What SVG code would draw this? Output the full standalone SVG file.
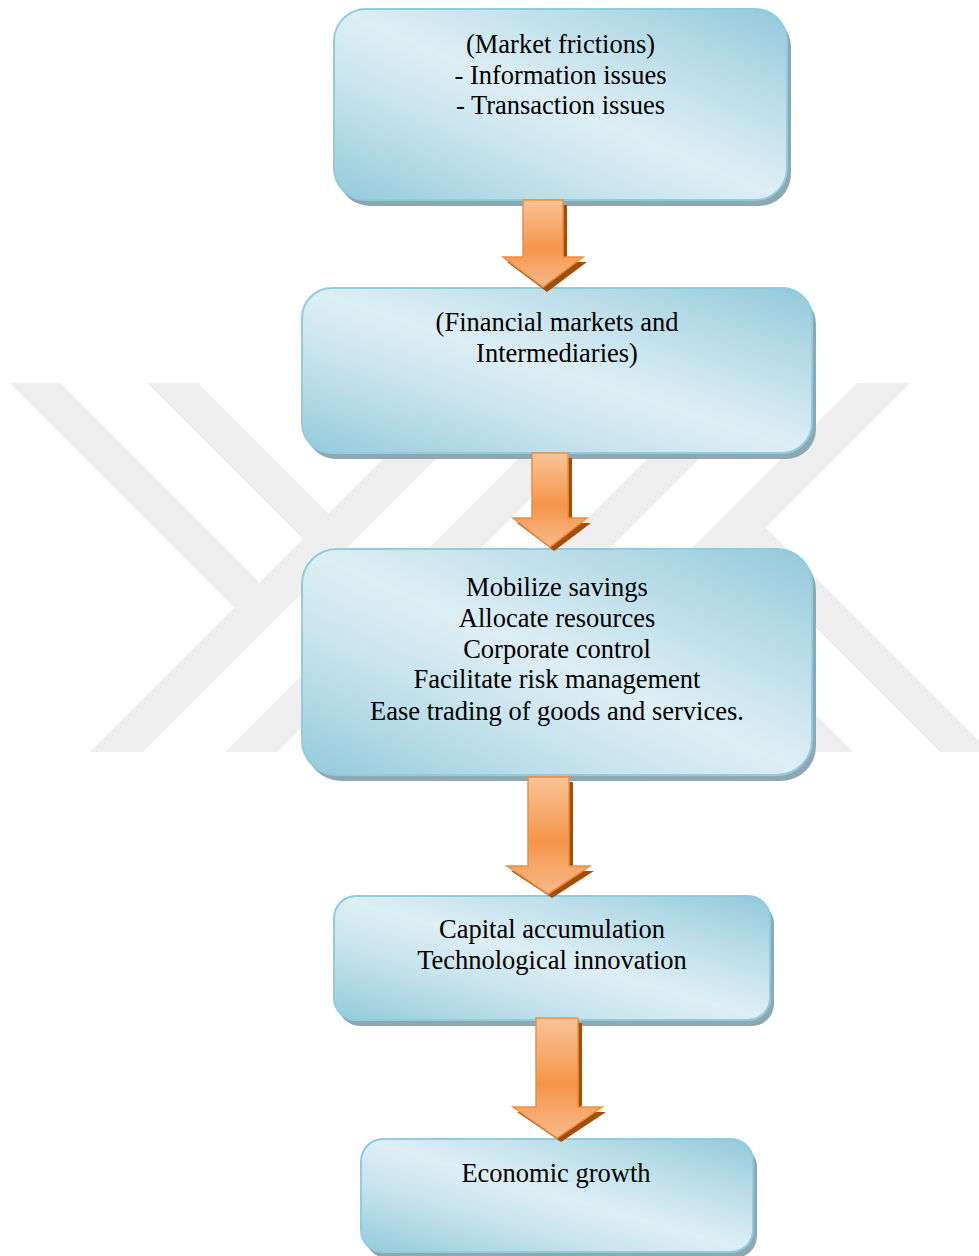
<svg xmlns="http://www.w3.org/2000/svg" width="979" height="1256" viewBox="0 0 979 1256">
  <defs>
    <linearGradient id="boxFill" x1="0" y1="1" x2="1" y2="0">
      <stop offset="0" stop-color="#93cadb"/>
      <stop offset="0.3" stop-color="#c6e3ec"/>
      <stop offset="0.5" stop-color="#ddeef4"/>
      <stop offset="0.7" stop-color="#c2e1eb"/>
      <stop offset="1" stop-color="#92c9da"/>
    </linearGradient>
    <linearGradient id="arrowFill" x1="0" y1="0" x2="0" y2="1">
      <stop offset="0" stop-color="#f9c398"/>
      <stop offset="0.55" stop-color="#f5954a"/>
      <stop offset="1" stop-color="#f9b98c"/>
    </linearGradient>
    <style>
      .wm { fill: #eeeeee; }
      .shadow { fill: #8ea7b0; }
      .face { fill: url(#boxFill); stroke: #8ccde0; stroke-width: 2; }
      .label { font-family: "Liberation Serif", "Times New Roman", serif; font-size: 26.5px; fill: #000000; text-anchor: middle; }
      .ashadow { fill: #a04f0c; }
      .arrow { fill: url(#arrowFill); stroke: #f08e3c; stroke-width: 1.5; stroke-linejoin: miter; }
    </style>
  </defs>

  <rect width="979" height="1256" fill="#ffffff"/>

  <g id="watermark">
    <polygon class="wm" points="90,752 143,752 512,383 459,383"/>
    <polygon class="wm" points="225,752 277,752 646,383 594,383"/>
    <polygon class="wm" points="10,383 60,383 259.5,582.5 234.5,607.5"/>
    <polygon class="wm" points="147,383 198,383 328.5,513.5 303,539"/>
    <polygon class="wm" points="910,383 857,383 488,752 541,752"/>
    <polygon class="wm" points="775,383 723,383 354,752 406,752"/>
    <polygon class="wm" points="990,752 940,752 740.5,552.5 765.5,527.5"/>
    <polygon class="wm" points="853,752 802,752 671.5,621.5 697,596"/>
  </g>

  <g id="node-frictions">
    <rect class="shadow" x="338" y="15" width="453" height="191" rx="32"/>
    <rect class="face" x="334" y="9" width="453" height="191" rx="32"/>
    <text class="label" x="560.5" y="53">(Market frictions)</text>
    <text class="label" x="560.5" y="84">- Information issues</text>
    <text class="label" x="560.5" y="114">- Transaction issues</text>
  </g>

  <g id="node-markets">
    <rect class="shadow" x="306" y="294" width="510" height="165" rx="30"/>
    <rect class="face" x="302" y="288" width="510" height="165" rx="30"/>
    <text class="label" x="557" y="331">(Financial markets and</text>
    <text class="label" x="557" y="362">Intermediaries)</text>
  </g>

  <g id="node-functions">
    <rect class="shadow" x="306" y="555" width="510" height="226" rx="35"/>
    <rect class="face" x="302" y="549" width="510" height="226" rx="35"/>
    <text class="label" x="557" y="596">Mobilize savings</text>
    <text class="label" x="557" y="627">Allocate resources</text>
    <text class="label" x="557" y="658">Corporate control</text>
    <text class="label" x="557" y="688">Facilitate risk management</text>
    <text class="label" x="557" y="720">Ease trading of goods and services.</text>
  </g>

  <g id="node-channels">
    <rect class="shadow" x="338" y="902" width="436" height="124" rx="22"/>
    <rect class="face" x="334" y="896" width="436" height="124" rx="22"/>
    <text class="label" x="552" y="938">Capital accumulation</text>
    <text class="label" x="552" y="969">Technological innovation</text>
  </g>

  <g id="node-growth">
    <rect class="shadow" x="365" y="1145" width="392" height="113" rx="22"/>
    <rect class="face" x="361" y="1139" width="392" height="113" rx="22"/>
    <text class="label" x="556" y="1182">Economic growth</text>
  </g>

  <g id="connectors">
    <g id="arrow-1">
      <polygon class="ashadow" points="527,205 567,205 567,262 587,262 547,292 507,262 527,262"/>
      <polygon class="arrow" points="523,200 563,200 563,257 583,257 543,287 503,257 523,257"/>
    </g>
    <g id="arrow-2">
      <polygon class="ashadow" points="536,458 572,458 572,523 591,523 554,551 517,523 536,523"/>
      <polygon class="arrow" points="532,453 568,453 568,518 587,518 550,547 513,518 532,518"/>
    </g>
    <g id="arrow-3">
      <polygon class="ashadow" points="532,782 573,782 573,871 594,871 552,898 511,871 532,871"/>
      <polygon class="arrow" points="528,777 569,777 569,866 590,866 548,894 507,866 528,866"/>
    </g>
    <g id="arrow-4">
      <polygon class="ashadow" points="540,1023 582,1023 582,1112 606,1112 561,1142 517,1112 540,1112"/>
      <polygon class="arrow" points="536,1018 578,1018 578,1107 602,1107 557,1138 513,1107 536,1107"/>
    </g>
  </g>
</svg>
